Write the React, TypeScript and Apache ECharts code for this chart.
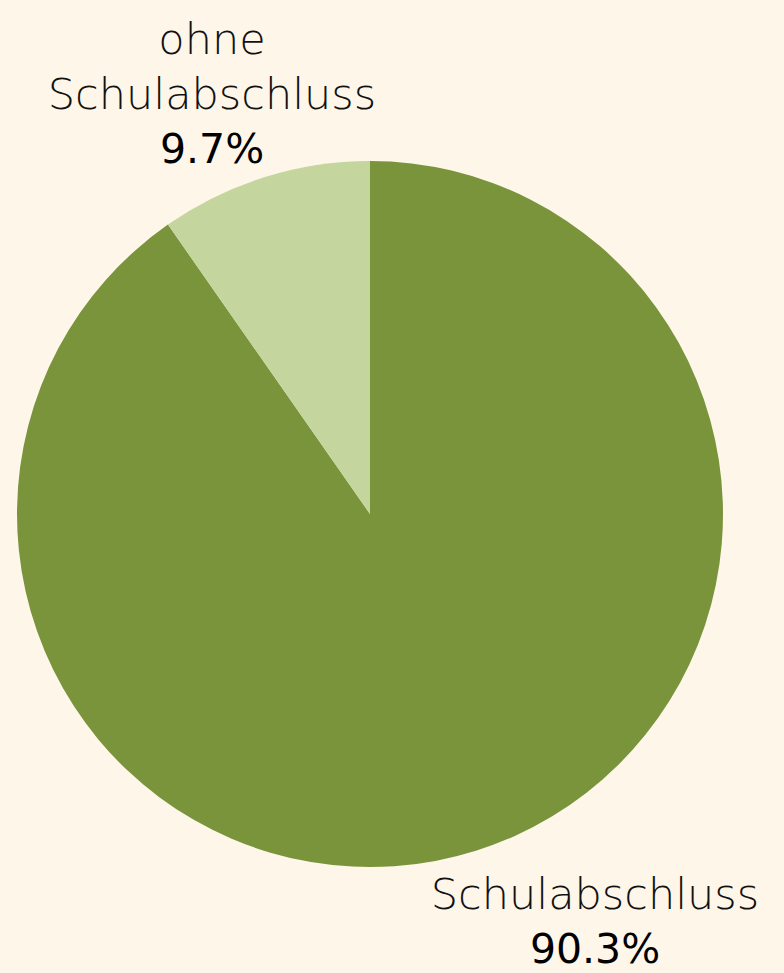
import React, { useEffect, useRef } from "react";
import * as echarts from "echarts";

const categories = ["Schulabschluss", "ohne\nSchulabschluss"];
const values = [90.3, 9.7];
const colors = ["#7a943c", "#c4d69e"];

export default function App() {
  const ref = useRef<HTMLDivElement>(null);
  useEffect(() => {
    document.body.style.margin = "0";
    document.body.style.background = "#fef6e9";
    const chart = echarts.init(ref.current!, null, { renderer: "svg" });
    const labelPos = [
      { x: 595, y: 921 },
      { x: 212, y: 94 },
    ];
    chart.setOption({
      animation: false,
      backgroundColor: "#fef6e9",
      series: [
        {
          type: "pie",
          center: [370, 514],
          radius: 353,
          startAngle: 90,
          clockwise: true,
          data: categories.map((c, i) => ({
            name: c,
            value: values[i],
            itemStyle: { color: colors[i] },
          })),
          label: {
            show: true,
            position: "outside",
            overflow: "none",
            edgeDistance: 0,
            formatter: (p: any) => `{n|${p.name}}\n{v|${p.value}%}`,
            align: "center",
            rich: {
              n: {
                fontFamily: "DejaVu Sans",
                fontWeight: 200,
                fontSize: 43,
                lineHeight: 55,
                color: "#111",
                align: "center",
              },
              v: {
                fontFamily: "DejaVu Sans",
                fontWeight: 400,
                fontSize: 41,
                lineHeight: 55,
                color: "#000",
                align: "center",
              },
            },
          },
          labelLine: { show: false },
          labelLayout: (p: any) => ({
            x: labelPos[p.dataIndex].x,
            y: labelPos[p.dataIndex].y,
            align: "center",
            verticalAlign: "middle",
          }),
        },
      ],
    });
    return () => chart.dispose();
  }, []);
  return <div ref={ref} style={{ width: 784, height: 973 }} />;
}
